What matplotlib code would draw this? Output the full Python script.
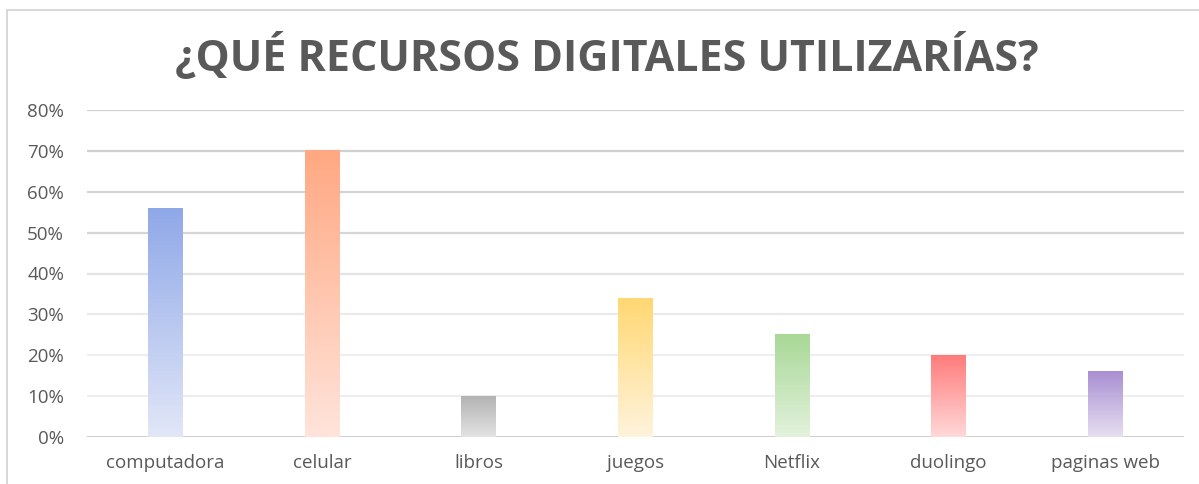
import numpy as np
import matplotlib
matplotlib.use("Agg")
import matplotlib.pyplot as plt
from matplotlib import font_manager as fm
from matplotlib.colors import LinearSegmentedColormap
from matplotlib.lines import Line2D

categories = ["computadora", "celular", "libros", "juegos", "Netflix", "duolingo", "paginas web"]
values = [0.56, 0.70, 0.10, 0.34, 0.25, 0.20, 0.16]
top_colors = ["#8FA8E8", "#FFA882", "#B3B3B3", "#FFD873", "#A8D896", "#FF7B7B", "#A98FD2"]
bottom_colors = ["#E2E7F8", "#FFE4DB", "#E3E3E3", "#FFF3DC", "#E3F2DD", "#FFD9D9", "#E7DFF1"]
yticks = [0, 0.1, 0.2, 0.3, 0.4, 0.5, 0.6, 0.7, 0.8]
ytick_labels = ["0%", "10%", "20%", "30%", "40%", "50%", "60%", "70%", "80%"]
title = "¿QUÉ RECURSOS DIGITALES UTILIZARÍAS?"

title_font = "Open Sans"
label_font = "Open Sans"

fig = plt.figure(figsize=(11.99, 4.84), dpi=100)
ax = fig.add_axes([87/1199, 1-437/484, (1183.7-87)/1199, (437-110)/484])

x = np.arange(len(categories))
bars = ax.bar(x, values, width=0.223, color="none", zorder=3)
for b, c0, c1 in zip(bars, top_colors, bottom_colors):
    cmap = LinearSegmentedColormap.from_list("g", [c1, c0])
    grad = np.linspace(0, 1, 256).reshape(-1, 1)
    x0, y0 = b.get_x(), b.get_y()
    ax.imshow(grad, cmap=cmap, origin="lower", aspect="auto",
              extent=(x0, x0 + b.get_width(), y0, y0 + b.get_height()), zorder=3)

ax.set_xlim(-0.5, len(categories) - 0.5)
ax.set_ylim(0, 0.8)
ax.set_yticks(yticks)
ax.set_yticklabels(ytick_labels)
ax.set_xticks(x)
ax.set_xticklabels(categories)
for s in ax.spines.values():
    s.set_visible(False)
ax.tick_params(length=0, colors="#595959", labelsize=13.5)
ax.tick_params(axis="y", pad=16.5)
ax.tick_params(axis="x", pad=12)
for lab in ax.get_xticklabels() + ax.get_yticklabels():
    lab.set_fontfamily(label_font)

grid_colors = ["#CFCFCF", "#EEEEEE", "#EEEEEE", "#EBEBEB", "#E3E3E3", "#D6D6D6", "#D3D3D3", "#D0D0D0", "#D0D0D0"]
for yv, gc in zip(yticks, grid_colors):
    ax.axhline(yv, color=gc, lw=2.2 if yv == 0 else 1.6, zorder=1)

fig.text(607/1199, 1-57/484, title, ha="center", va="center", fontsize=31,
         fontweight="bold", color="#595959", family=title_font)

fig.add_artist(Line2D([7/1199, 1], [1-10/484, 1-10/484], color="#D9D9D9", lw=1.5, transform=fig.transFigure))
fig.add_artist(Line2D([7/1199, 7/1199], [0, 1-10/484], color="#D9D9D9", lw=1.5, transform=fig.transFigure))

fig.savefig("out.png", dpi=100)
